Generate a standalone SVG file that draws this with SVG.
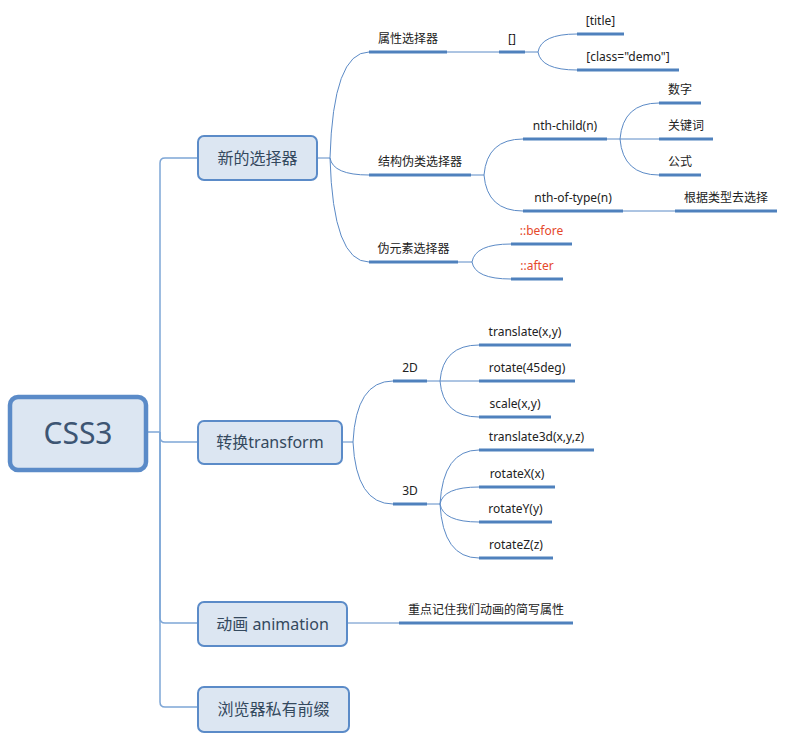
<svg xmlns="http://www.w3.org/2000/svg" width="803" height="735" viewBox="0 0 803 735">
<style>
.bg{fill:#ffffff}
.box{fill:#dce6f2;stroke:#5b8bc8;stroke-width:2}
.root{fill:#dce6f2;stroke:#5b8bc8;stroke-width:4.5}
.nt{font-family:"Noto Sans","Noto Sans CJK SC",sans-serif;font-size:16px;fill:#34495e;text-anchor:middle}
.rt{font-family:"Noto Sans","Noto Sans CJK SC",sans-serif;font-size:30px;fill:#3d5573;text-anchor:middle}
.lt{font-family:"Noto Sans","Noto Sans CJK SC",sans-serif;font-size:12px;fill:#222222;text-anchor:middle}
.red{fill:#e5492b}
.ul{stroke:#4f81bd;stroke-width:3;fill:none}
.c{stroke:#5b8ac6;stroke-width:1;fill:none}
.tr{stroke:#7ea6d6;stroke-width:1.5;fill:none}
</style>
<rect class="bg" x="0" y="0" width="803" height="735"/>
<g id="connectors">
  <path class="tr" d="M148,432 L160,432"/>
  <path class="tr" d="M160,432 L160,163 Q160,158 165,158 L198,158"/>
  <path class="tr" d="M160,432 L160,437 Q160,442 165,442 L198,442"/>
  <path class="tr" d="M160,432 L160,618 Q160,623 165,623 L198,623"/>
  <path class="tr" d="M160,432 L160,702 Q160,707 165,707 L198,707"/>
  <path class="c" d="M317,158 L330,158"/>
  <path class="c" d="M330,158 Q333,52 369,52"/>
  <path class="c" d="M330,158 Q333,175 369,175"/>
  <path class="c" d="M330,158 Q333,262 369,262"/>
  <path class="c" d="M447,52 L499,52"/>
  <path class="c" d="M525,52 L538,52"/>
  <path class="c" d="M538,52 Q541,34 577,34"/>
  <path class="c" d="M538,52 Q541,70 577,70"/>
  <path class="c" d="M471,175 L484,175"/>
  <path class="c" d="M484,175 Q487,139 523,139"/>
  <path class="c" d="M484,175 Q487,211 523,211"/>
  <path class="c" d="M607,139 L620,139"/>
  <path class="c" d="M620,139 Q623,103 659,103"/>
  <path class="c" d="M620,139 L659,139"/>
  <path class="c" d="M620,139 Q623,175 659,175"/>
  <path class="c" d="M623,211 L675,211"/>
  <path class="c" d="M458,262 L472,262"/>
  <path class="c" d="M472,262 Q475,244 511,244"/>
  <path class="c" d="M472,262 Q475,279 511,279"/>
  <path class="c" d="M342,442 L353,442"/>
  <path class="c" d="M353,442 Q356,381 393,381"/>
  <path class="c" d="M353,442 Q356,504 393,504"/>
  <path class="c" d="M427,381 L440,381"/>
  <path class="c" d="M440,381 Q443,345 479,345"/>
  <path class="c" d="M440,381 L479,381"/>
  <path class="c" d="M440,381 Q443,417 479,417"/>
  <path class="c" d="M427,504 L440,504"/>
  <path class="c" d="M440,504 Q443,450 479,450"/>
  <path class="c" d="M440,504 Q443,487 479,487"/>
  <path class="c" d="M440,504 Q443,522 479,522"/>
  <path class="c" d="M440,504 Q443,558 479,558"/>
  <path class="c" d="M347,623 L399,623"/>
</g>
<g id="root">
  <rect class="root" x="10" y="397" width="136" height="73" rx="8"/>
  <text class="rt" x="78" y="444">CSS3</text>
</g>
<g id="n-selector">
  <rect class="box" x="198" y="136" width="119" height="44" rx="6"/>
  <text class="nt" x="257.5" y="163.5">新的选择器</text>
</g>
<g id="n-transform">
  <rect class="box" x="198" y="421" width="144" height="43" rx="6"/>
  <text class="nt" x="270" y="448">转换transform</text>
</g>
<g id="n-animation">
  <rect class="box" x="198" y="602" width="149" height="44" rx="6"/>
  <text class="nt" x="272.5" y="629.5">动画 animation</text>
</g>
<g id="n-prefix">
  <rect class="box" x="198" y="687" width="151" height="45" rx="6"/>
  <text class="nt" x="273.5" y="715">浏览器私有前缀</text>
</g>
<g id="l-attr"><path class="ul" d="M369,52 L447,52"/><text class="lt" x="408" y="43">属性选择器</text></g>
<g id="l-bracket"><path class="ul" d="M499,52 L525,52"/><text class="lt" x="512" y="43">[]</text></g>
<g id="l-title"><path class="ul" d="M577,34 L624,34"/><text class="lt" x="600.5" y="25">[title]</text></g>
<g id="l-class"><path class="ul" d="M577,70 L679,70"/><text class="lt" x="628" y="61">[class="demo"]</text></g>
<g id="l-struct"><path class="ul" d="M369,175 L471,175"/><text class="lt" x="420" y="166">结构伪类选择器</text></g>
<g id="l-nthchild"><path class="ul" d="M523,139 L607,139"/><text class="lt" x="565" y="130">nth-child(n)</text></g>
<g id="l-num"><path class="ul" d="M659,103 L701,103"/><text class="lt" x="680" y="94">数字</text></g>
<g id="l-key"><path class="ul" d="M659,139 L713,139"/><text class="lt" x="686" y="130">关键词</text></g>
<g id="l-formula"><path class="ul" d="M659,175 L701,175"/><text class="lt" x="680" y="166">公式</text></g>
<g id="l-nthtype"><path class="ul" d="M523,211 L623,211"/><text class="lt" x="573" y="202">nth-of-type(n)</text></g>
<g id="l-bytype"><path class="ul" d="M675,211 L777,211"/><text class="lt" x="726" y="202">根据类型去选择</text></g>
<g id="l-pseudo"><path class="ul" d="M369,262 L458,262"/><text class="lt" x="413.5" y="253">伪元素选择器</text></g>
<g id="l-before"><path class="ul" d="M511,244 L572,244"/><text class="lt red" x="541.5" y="235">::before</text></g>
<g id="l-after"><path class="ul" d="M511,279 L563,279"/><text class="lt red" x="537" y="270">::after</text></g>
<g id="l-2d"><path class="ul" d="M393,381 L427,381"/><text class="lt" x="410" y="372">2D</text></g>
<g id="l-translate"><path class="ul" d="M479,345 L571,345"/><text class="lt" x="525" y="336">translate(x,y)</text></g>
<g id="l-rotate"><path class="ul" d="M479,381 L575,381"/><text class="lt" x="527" y="372">rotate(45deg)</text></g>
<g id="l-scale"><path class="ul" d="M479,417 L551,417"/><text class="lt" x="515" y="408">scale(x,y)</text></g>
<g id="l-3d"><path class="ul" d="M393,504 L427,504"/><text class="lt" x="410" y="495">3D</text></g>
<g id="l-translate3d"><path class="ul" d="M479,450 L594,450"/><text class="lt" x="536.5" y="441">translate3d(x,y,z)</text></g>
<g id="l-rotatex"><path class="ul" d="M479,487 L555,487"/><text class="lt" x="517" y="478">rotateX(x)</text></g>
<g id="l-rotatey"><path class="ul" d="M479,522 L552,522"/><text class="lt" x="515.5" y="513">rotateY(y)</text></g>
<g id="l-rotatez"><path class="ul" d="M479,558 L553,558"/><text class="lt" x="516" y="549">rotateZ(z)</text></g>
<g id="l-anim"><path class="ul" d="M399,623 L573,623"/><text class="lt" x="486" y="614">重点记住我们动画的简写属性</text></g>
</svg>
